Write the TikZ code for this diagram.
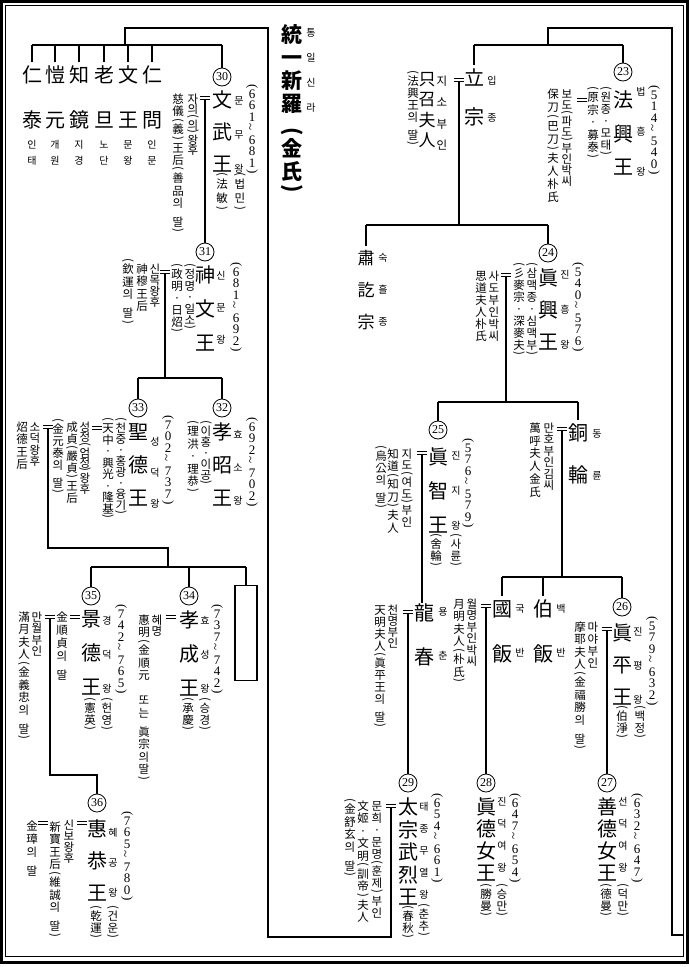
\documentclass[tikz,border=0pt]{standalone}
\usepackage{fontspec}
\usepackage{graphicx}
\usepackage{tikz}
\setmainfont{Noto Sans CJK KR}
\newfontfamily\numfont{Liberation Serif}

% vertical columns of glyphs
\newdimen\vtp
\newsavebox\vtsb
\def\vtcap{.88em}
\def\vtw{1.3em}
\def\vgap{\kern0pt gap}
\def\vpo{\vtrot{-90}{(}}
\def\vpc{\vtrot{-90}{)}}
\def\vtil{\vtrot{90}{\char126}}
\def\vtrot#1#2{\sbox\vtsb{\rotatebox[origin=c]{#1}{#2}}\raisebox{\dimexpr\vtcap-\ht\vtsb\relax}{\usebox\vtsb}}
\def\vtbox#1#2{\hbox to\vtw{\hss\vrule height#1 depth0pt width0pt\smash{\raisebox{\dimexpr#1-\vtcap\relax}{#2}}\hss}}
\def\vtc#1{\ifx#1\vgap\vskip.5\vtp\relax\else\ifx#1\vpo\vtbox{.45\vtp}{#1}\else\ifx#1\vpc\vtbox{.45\vtp}{#1}\else\vtbox{\vtp}{#1}\fi\fi\fi}
\def\vtl#1{\ifx#1\relax\else\vtc{#1}\expandafter\vtl\fi}
\newcommand\vstack[2][1.1em]{\vbox{\offinterlineskip\vtp=\dimexpr#1\relax\vtl#2\relax}}

\tikzset{
  ln/.style={line width=1.2pt},
  dr/.style={ln, shorten >=3pt},
  num/.style={circle, draw, line width=0.8pt, inner sep=0pt, minimum size=18pt,
    font=\numfont\fontsize{12}{12}\selectfont},
  tt/.style={anchor=north, inner sep=0pt, font=\fontsize{21}{21}\selectfont\bfseries},
  kg/.style={anchor=north, inner sep=0pt, font=\fontsize{20}{20}\selectfont},
  md/.style={anchor=north, inner sep=0pt, font=\fontsize{17}{17}\selectfont},
  rd/.style={anchor=north, inner sep=0pt, font=\fontsize{10}{10}\selectfont},
  an/.style={anchor=north, inner sep=0pt, font=\fontsize{11.5}{11.5}\selectfont},
  dt/.style={anchor=north, inner sep=0pt, font={\numfont\fontsize{13}{13}\selectfont\def\vtcap{.68em}}},
  eq/.style={inner sep=0pt, outer sep=0pt, minimum width=10pt, minimum height=3.5pt,
    append after command={(\tikzlastnode.north west) edge[line width=.9pt] (\tikzlastnode.north east)
      (\tikzlastnode.south west) edge[line width=.9pt] (\tikzlastnode.south east)}}
}

\begin{document}
\begin{tikzpicture}[x=1pt, y=-1pt]
\useasboundingbox (0,0) rectangle (690,967);
% frame
\draw[line width=3pt] (1.5,1.5) rectangle (687.5,962.5);
\draw[line width=1pt] (5.5,5.5) rectangle (683,956);

% title
\node[tt] (title) at (292,24) {\vstack[23pt]{統一新羅\vgap \vpo 金氏\vpc }};
\node[rd] (title-r) at (311,27) {\vstack[25pt]{통일신라}};

% children of 29 (left block)
\node[kg] (intae) at (32,65) {\vstack[45pt]{仁泰}};
\node[kg] (gaewon) at (55,65) {\vstack[45pt]{愷元}};
\node[kg] (jigyeong) at (79,65) {\vstack[45pt]{知鏡}};
\node[kg] (nodan) at (104,65) {\vstack[45pt]{老旦}};
\node[kg] (munwang) at (128,65) {\vstack[45pt]{文王}};
\node[kg] (inmun) at (152,65) {\vstack[45pt]{仁問}};
\node[rd] (intae-r) at (32,139) {\vstack[16pt]{인태}};
\node[rd] (gaewon-r) at (55,139) {\vstack[16pt]{개원}};
\node[rd] (jigyeong-r) at (79,139) {\vstack[16pt]{지경}};
\node[rd] (nodan-r) at (104,139) {\vstack[16pt]{노단}};
\node[rd] (munwang-r) at (128,139) {\vstack[16pt]{문왕}};
\node[rd] (inmun-r) at (152,139) {\vstack[16pt]{인문}};

% 30 munmu
\node[num] (c30) at (222,77) {30};
\node[kg] (n30) at (222,90) {\vstack[32pt]{文武王}};
\node[rd] (r30) at (239,95) {\vstack[34pt]{문무왕}};
\node[dt] (d30) at (252,84) {\vstack[11.5pt]{\vpo 661\vtil 681\vpc }};
\node[an] (p30) at (222,172) {\vstack[14pt]{\vpo 法敏\vpc }};
\node[an] (q30) at (240,172) {\vstack[14pt]{\vpo 법민\vpc }};
\node[eq] (e30) at (205,98) {};
\node[an] (s30a) at (193,93) {\vstack[10.5pt]{자의\vpo 의\vpc 왕후}};
\node[an] (s30b) at (178,93) {\vstack[12.5pt]{慈儀\vpo 義\vpc 王后\vpo 善品의\vgap 딸\vpc }};

% 31 sinmun
\node[num] (c31) at (205,252) {31};
\node[kg] (n31) at (205,265) {\vstack[34pt]{神文王}};
\node[rd] (r31) at (221,270) {\vstack[32pt]{신문왕}};
\node[dt] (d31) at (236,262) {\vstack[11.5pt]{\vpo 681\vtil 692\vpc }};
\node[an] (p31) at (190,263) {\vstack[11.5pt]{\vpo 정명·일소\vpc }};
\node[an] (q31) at (177,263) {\vstack[12pt]{\vpo 政明·日炤\vpc }};
\node[eq] (e31) at (165,272) {};
\node[an] (s31a) at (155,263) {\vstack[11pt]{신목왕후}};
\node[an] (s31b) at (142,263) {\vstack[12.5pt]{神穆王后}};
\node[an] (s31c) at (128,258) {\vstack[12.5pt]{\vpo 欽運의\vgap 딸\vpc }};

% 33 seongdeok
\node[num] (c33) at (138,408) {33};
\node[kg] (n33) at (138,422) {\vstack[33pt]{聖德王}};
\node[rd] (r33) at (155,436) {\vstack[31pt]{성덕왕}};
\node[dt] (d33) at (168,415) {\vstack[11.5pt]{\vpo 702\vtil 737\vpc }};
\node[an] (p33) at (121,417) {\vstack[11pt]{\vpo 천중·홍광·융기\vpc }};
\node[an] (q33) at (108,417) {\vstack[11.5pt]{\vpo 天中·興光·隆基\vpc }};
\node[eq] (e33) at (97,428) {};
\node[an] (s33a) at (85,421) {\vstack[10.5pt]{성정\vpo 엄정\vpc 왕후}};
\node[an] (s33b) at (72,421) {\vstack[12pt]{成貞\vpo 嚴貞\vpc 王后}};
\node[an] (s33c) at (58,418) {\vstack[12pt]{\vpo 金元泰의\vgap 딸\vpc }};
\node[eq] (e33b) at (48,427) {};
\node[an] (s33d) at (35,421) {\vstack[11.5pt]{소덕왕후}};
\node[an] (s33e) at (22,421) {\vstack[12.5pt]{炤德王后}};

% 32 hyoso
\node[num] (c32) at (222,408) {32};
\node[kg] (n32) at (222,422) {\vstack[33pt]{孝昭王}};
\node[rd] (r32) at (238,429) {\vstack[33pt]{효소왕}};
\node[dt] (d32) at (252,417) {\vstack[11.5pt]{\vpo 692\vtil 702\vpc }};
\node[an] (p32) at (206,420) {\vstack[11pt]{\vpo 이홍·이공\vpc }};
\node[an] (q32) at (193,420) {\vstack[12.5pt]{\vpo 理洪·理恭\vpc }};

% 34 hyoseong
\node[num] (c34) at (189,596) {34};
\node[kg] (n34) at (189,610) {\vstack[34pt]{孝成王}};
\node[rd] (r34) at (205,615) {\vstack[34pt]{효성왕}};
\node[dt] (d34) at (217,604) {\vstack[11.5pt]{\vpo 737\vtil 742\vpc }};
\node[an] (p34) at (188,697) {\vstack[12pt]{\vpo 承慶\vpc }};
\node[an] (q34) at (205,697) {\vstack[12pt]{\vpo 승경\vpc }};
\node[eq] (e34) at (171,617) {};
\node[an] (s34a) at (157,614) {\vstack[11.5pt]{혜명}};
\node[an] (s34b) at (144,614) {\vstack[12.5pt]{惠明\vpo 金順元\vgap \vgap 또는\vgap 眞宗의딸\vpc }};

% 35 gyeongdeok
\node[num] (c35) at (91,596) {35};
\node[kg] (n35) at (91,609) {\vstack[34pt]{景德王}};
\node[rd] (r35) at (107,615) {\vstack[34pt]{경덕왕}};
\node[dt] (d35) at (121,604) {\vstack[11.5pt]{\vpo 742\vtil 765\vpc }};
\node[an] (p35) at (90,697) {\vstack[12pt]{\vpo 憲英\vpc }};
\node[an] (q35) at (107,697) {\vstack[12pt]{\vpo 헌영\vpc }};
\node[eq] (e35) at (75,617) {};
\node[an] (s35a) at (62,611) {\vstack[13pt]{金順貞의\vgap 딸}};
\node[eq] (e35b) at (50,617) {};
\node[an] (s35b) at (37,611) {\vstack[11.5pt]{만월부인}};
\node[an] (s35c) at (24,611) {\vstack[12.5pt]{滿月夫人\vpo 金義忠의\vgap 딸\vpc }};

% 36 hyegong
\node[num] (c36) at (97,803) {36};
\node[kg] (n36) at (97,819) {\vstack[32pt]{惠恭王}};
\node[rd] (r36) at (113,827) {\vstack[30pt]{혜공왕}};
\node[dt] (d36) at (127,811) {\vstack[11.5pt]{\vpo 765\vtil 780\vpc }};
\node[an] (p36) at (96,905) {\vstack[12pt]{\vpo 乾運\vpc }};
\node[an] (q36) at (113,905) {\vstack[12pt]{\vpo 건운\vpc }};
\node[eq] (e36) at (82,823) {};
\node[an] (s36a) at (69,819) {\vstack[11pt]{신보왕후}};
\node[an] (s36b) at (55,821) {\vstack[12.5pt]{新寶王后\vpo 維誠의\vgap 딸\vpc }};
\node[eq] (e36b) at (43,823) {};
\node[an] (s36c) at (32,820) {\vstack[13pt]{金璋의\vgap 딸}};

\node[draw, line width=1.2pt, anchor=north, inner sep=0pt, minimum width=22pt, minimum height=95pt] (blank) at (246,585) {};

% ipjong
\node[kg] (ipjong) at (474,68) {\vstack[39pt]{立宗}};
\node[rd] (ipjong-r) at (492,75) {\vstack[37pt]{입종}};
\node[eq] (eip) at (459,80) {};
\node[an] (sip-a) at (442,75) {\vstack[21.5pt]{지소부인}};
\node[md] (sip-b) at (427,70) {\vstack[20.5pt]{只召夫人}};
\node[an] (sip-c) at (413,70) {\vstack[12pt]{\vpo 法興王의\vgap 딸\vpc }};

\node[md] (sukheul) at (366,249) {\vstack[32pt]{肅訖宗}};
\node[rd] (sukheul-r) at (383,252) {\vstack[32pt]{숙흘종}};

% 23 beopheung
\node[num] (c23) at (623,72) {23};
\node[kg] (n23) at (623,90) {\vstack[33.5pt]{法興王}};
\node[rd] (r23) at (641,86) {\vstack[40pt]{법흥왕}};
\node[dt] (d23) at (654,85) {\vstack[11.5pt]{\vpo 514\vtil 540\vpc }};
\node[an] (p23) at (606,86) {\vstack[12pt]{\vpo 원종·모태\vpc }};
\node[an] (q23) at (593,86) {\vstack[12.5pt]{\vpo 原宗·募泰\vpc }};
\node[eq] (e23) at (582,100) {};
\node[an] (s23a) at (567,88) {\vstack[11pt]{보도\vpo 파도\vpc 부인박씨}};
\node[an] (s23b) at (553,88) {\vstack[13pt]{保刀\vpo 巴刀\vpc 夫人朴氏}};

% 24 jinheung
\node[num] (c24) at (548,253) {24};
\node[kg] (n24) at (548,268) {\vstack[32pt]{眞興王}};
\node[rd] (r24) at (565,269) {\vstack[35pt]{진흥왕}};
\node[dt] (d24) at (578,262) {\vstack[11.5pt]{\vpo 540\vtil 576\vpc }};
\node[an] (p24) at (532,262) {\vstack[12pt]{\vpo 삼맥종·심맥부\vpc }};
\node[an] (q24) at (519,262) {\vstack[12pt]{\vpo 彡麥宗·深麥夫\vpc }};
\node[eq] (e24) at (506,275) {};
\node[an] (s24a) at (494,270) {\vstack[12pt]{사도부인박씨}};
\node[an] (s24b) at (481,270) {\vstack[12pt]{思道夫人朴氏}};

% 25 jinji
\node[num] (c25) at (438,430) {25};
\node[kg] (n25) at (438,447) {\vstack[34pt]{眞智王}};
\node[rd] (r25) at (456,450) {\vstack[35pt]{진지왕}};
\node[dt] (d25) at (468,438) {\vstack[11.5pt]{\vpo 576\vtil 579\vpc }};
\node[an] (p25) at (436,533) {\vstack[12pt]{\vpo 舍輪\vpc }};
\node[an] (q25) at (456,533) {\vstack[12pt]{\vpo 사륜\vpc }};
\node[eq] (e25) at (422,453) {};
\node[an] (s25a) at (407,448) {\vstack[11.5pt]{지도\vpo 여도\vpc 부인}};
\node[an] (s25b) at (393,448) {\vstack[12.5pt]{知道\vpo 知刀\vpc 夫人}};
\node[an] (s25c) at (381,445) {\vstack[12pt]{\vpo 烏公의\vgap 딸\vpc }};

% yongchun
\node[kg] (yongchun) at (424,603) {\vstack[44pt]{龍春}};
\node[rd] (yongchun-r) at (443,606) {\vstack[44pt]{용춘}};
\node[eq] (eyc) at (408,612) {};
\node[an] (syc-a) at (393,604) {\vstack[11pt]{천명부인}};
\node[an] (syc-b) at (380,604) {\vstack[12pt]{天明夫人\vpo 眞平王의\vgap 딸\vpc }};

% 29 taejong muyeol
\node[num] (c29) at (408,783) {29};
\node[kg] (n29) at (408,797) {\vstack[22.5pt]{太宗武烈王}};
\node[rd] (r29) at (424,801) {\vstack[22pt]{태종무열왕}};
\node[dt] (d29) at (437,793) {\vstack[11.5pt]{\vpo 654\vtil 661\vpc }};
\node[an] (p29) at (408,905) {\vstack[12pt]{\vpo 春秋\vpc }};
\node[an] (q29) at (424,903) {\vstack[12pt]{\vpo 춘추\vpc }};
\node[eq] (e29) at (391,806) {};
\node[an] (s29a) at (377,800) {\vstack[12pt]{문희·문명\vpo 훈제\vpc 부인}};
\node[an] (s29b) at (363,800) {\vstack[12.5pt]{文姬·文明\vpo 訓帝\vpc 夫人}};
\node[an] (s29c) at (350,798) {\vstack[12.5pt]{\vpo 金舒玄의\vgap 딸\vpc }};

% dongryun
\node[kg] (dongryun) at (578,423) {\vstack[42pt]{銅輪}};
\node[rd] (dongryun-r) at (597,428) {\vstack[42pt]{동륜}};
\node[eq] (edr) at (562,429) {};
\node[an] (sdr-a) at (549,422) {\vstack[11.5pt]{만호부인김씨}};
\node[an] (sdr-b) at (535,422) {\vstack[12.8pt]{萬呼夫人金氏}};

% gukban, baekban
\node[kg] (gukban) at (502,599) {\vstack[45pt]{國飯}};
\node[rd] (gukban-r) at (520,603) {\vstack[44pt]{국반}};
\node[kg] (baekban) at (543,599) {\vstack[45pt]{伯飯}};
\node[rd] (baekban-r) at (561,603) {\vstack[44pt]{백반}};
\node[eq] (egb) at (486,606) {};
\node[an] (sgb-a) at (472,598) {\vstack[11.5pt]{월명부인박씨}};
\node[an] (sgb-b) at (459,598) {\vstack[12.5pt]{月明夫人\vpo 朴氏\vpc }};

% 26 jinpyeong
\node[num] (c26) at (622,607) {26};
\node[kg] (n26) at (622,623) {\vstack[32pt]{眞平王}};
\node[rd] (r26) at (638,626) {\vstack[34pt]{진평왕}};
\node[dt] (d26) at (652,616) {\vstack[11.5pt]{\vpo 579\vtil 632\vpc }};
\node[an] (p26) at (622,705) {\vstack[12pt]{\vpo 伯淨\vpc }};
\node[an] (q26) at (640,705) {\vstack[12pt]{\vpo 백정\vpc }};
\node[eq] (e26) at (607,629) {};
\node[an] (s26a) at (593,621) {\vstack[12pt]{마야부인}};
\node[an] (s26b) at (580,621) {\vstack[12.5pt]{摩耶夫人\vpo 金福勝의\vgap 딸\vpc }};

% 27 seondeok
\node[num] (c27) at (607,783) {27};
\node[kg] (n27) at (607,797) {\vstack[22pt]{善德女王}};
\node[rd] (r27) at (623,796) {\vstack[22pt]{선덕여왕}};
\node[dt] (d27) at (637,793) {\vstack[11.5pt]{\vpo 632\vtil 647\vpc }};
\node[an] (p27) at (606,883) {\vstack[12pt]{\vpo 德曼\vpc }};
\node[an] (q27) at (623,883) {\vstack[12pt]{\vpo 덕만\vpc }};

% 28 jindeok
\node[num] (c28) at (486,783) {28};
\node[kg] (n28) at (486,797) {\vstack[22pt]{眞德女王}};
\node[rd] (r28) at (502,796) {\vstack[22pt]{진덕여왕}};
\node[dt] (d28) at (515,793) {\vstack[11.5pt]{\vpo 647\vtil 654\vpc }};
\node[an] (p28) at (486,883) {\vstack[12pt]{\vpo 勝曼\vpc }};
\node[an] (q28) at (502,883) {\vstack[12pt]{\vpo 승만\vpc }};

% connectors, left half
\coordinate (lbBot) at (268,937);
\coordinate (lbTop) at (268,28);
\coordinate (bar29) at (125,45);
\draw[ln] (e29.south) |- (lbBot) -- (lbTop) -| (bar29);
\draw[ln] (intae.north |- bar29) -- (c30.north |- bar29);
\foreach \n in {intae,gaewon,jigyeong,nodan,munwang,inmun}
  \draw[dr] (\n.north |- bar29) -- (\n.north);
\draw[ln] (c30.north |- bar29) -- (c30.north);
\draw[ln] (e30.south) -- (c31.north);
\coordinate (bar31) at (165,378);
\draw[ln] (e31.south) -- (bar31);
\draw[ln] (c33.north |- bar31) -- (c32.north |- bar31);
\foreach \n in {c33,c32}
  \draw[ln] (\n.north |- bar31) -- (\n.north);
\coordinate (k33) at (168,548);
\coordinate (bar33) at (168,567);
\draw[ln] (e33b.south) |- (k33) -- (bar33);
\draw[ln] (c35.north |- bar33) -- (blank.north |- bar33);
\foreach \n in {c35,c34,blank}
  \draw[ln] (\n.north |- bar33) -- (\n.north);
\coordinate (k35) at (97,775);
\draw[ln] (e35b.south) |- (k35) -- (c36.north);

% connectors, right half
\coordinate (rbTop) at (672,28);
\coordinate (rbBot) at (672,935);
\coordinate (rbEnd) at (683,935);
\coordinate (bar22) at (548,45);
\draw[ln] (bar22) |- (rbTop) -- (rbBot) -- (rbEnd);
\draw[ln] (ipjong.north |- bar22) -- (c23.north |- bar22);
\draw[dr] (ipjong.north |- bar22) -- (ipjong.north);
\draw[ln] (c23.north |- bar22) -- (c23.north);
\coordinate (barip) at (459,225);
\draw[ln] (eip.south) -- (barip);
\draw[ln] (sukheul.north |- barip) -- (c24.north |- barip);
\draw[dr] (sukheul.north |- barip) -- (sukheul.north);
\draw[ln] (c24.north |- barip) -- (c24.north);
\coordinate (bar24) at (506,402);
\draw[ln] (e24.south) -- (bar24);
\draw[ln] (c25.north |- bar24) -- (dongryun.north |- bar24);
\draw[ln] (c25.north |- bar24) -- (c25.north);
\draw[dr] (dongryun.north |- bar24) -- (dongryun.north);
\draw[ln] (e25.south) -- (e25.south |- yongchun.north);
\draw[ln] (eyc.south) -- (c29.north);
\coordinate (bardr) at (562,577);
\draw[ln] (edr.south) -- (bardr);
\draw[ln] (gukban.north |- bardr) -- (c26.north |- bardr);
\foreach \n in {gukban,baekban}
  \draw[dr] (\n.north |- bardr) -- (\n.north);
\draw[ln] (c26.north |- bardr) -- (c26.north);
\draw[ln] (egb.south) -- (c28.north);
\draw[ln] (e26.south) -- (c27.north);
\end{tikzpicture}
\end{document}
